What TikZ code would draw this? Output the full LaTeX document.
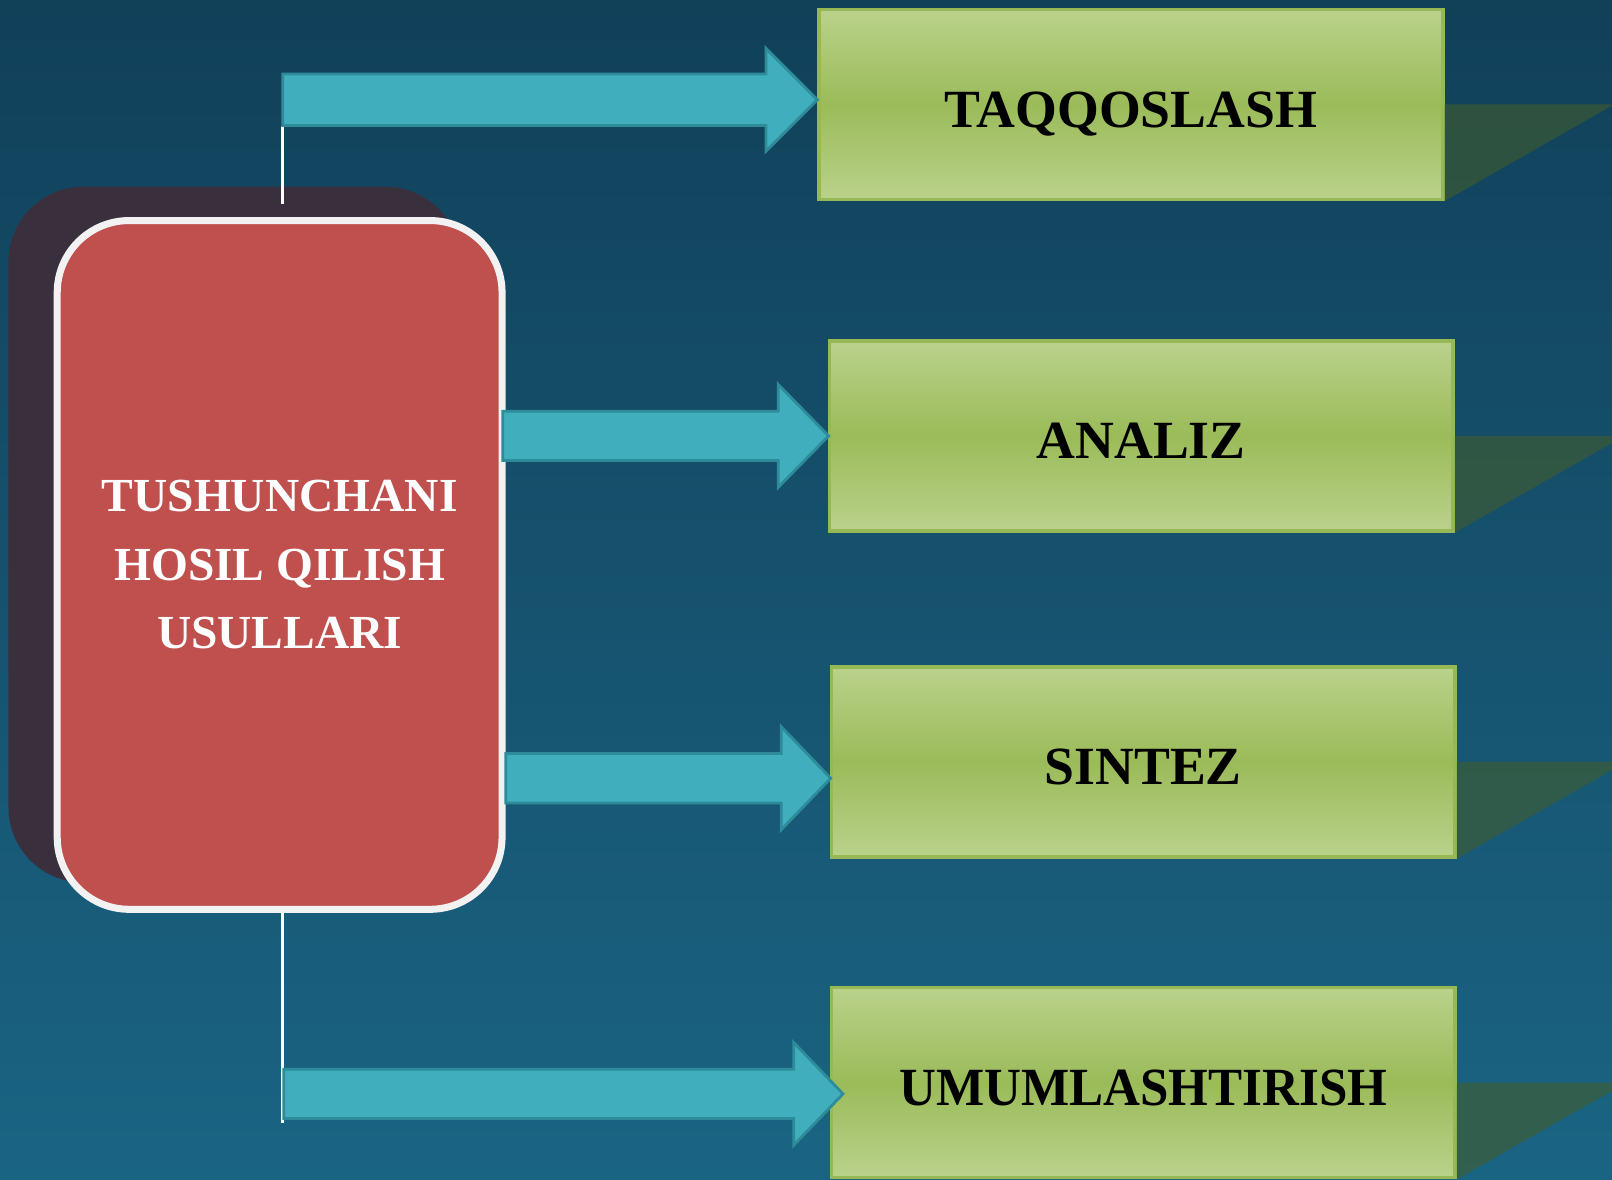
\documentclass[tikz,border=0pt]{standalone}
\usepackage{fontspec}
\setmainfont{Liberation Serif}
\usetikzlibrary{calc}
\definecolor{bgtop}{RGB}{17,64,89}
\definecolor{bgbot}{RGB}{26,100,131}
\definecolor{redfill}{RGB}{192,80,77}
\definecolor{redshadow}{RGB}{58,47,61}
\definecolor{arrowfill}{RGB}{65,174,189}
\definecolor{arrowline}{RGB}{46,140,154}
\definecolor{greenlight}{RGB}{197,218,157}
\definecolor{greenmid}{RGB}{155,187,89}
\definecolor{greenline}{RGB}{150,185,85}
\definecolor{shadegreen}{RGB}{66,92,44}
\pgfdeclareverticalshading{greenbar}{100bp}{color(0bp)=(greenlight); color(16bp)=(greenlight); color(50bp)=(greenmid); color(84bp)=(greenlight); color(100bp)=(greenlight)}
\begin{document}
\begin{tikzpicture}[x=0.01028cm,y=-0.01028cm,
  method/.style={rectangle,draw=greenline,line width=1pt,shading=greenbar,minimum width=6.24cm,minimum height=1.9cm,font=\fontsize{15.3}{18}\selectfont\bfseries,text height=0.46cm,text depth=0cm},
  main/.style={rectangle,rounded corners=0.72cm,draw=white!95!black,line width=2pt,fill=redfill,minimum width=4.45cm,minimum height=6.89cm,text=white,align=center,font=\fontsize{13.5}{19.5}\selectfont\bfseries},
  mainshadow/.style={rectangle,rounded corners=0.75cm,fill=redshadow,minimum width=4.52cm,minimum height=6.96cm},
  barrow/.style={fill=arrowfill,draw=arrowline,line width=0.8pt},
  link/.style={draw=white,line width=0.8pt},
  perspective/.style={fill=shadegreen,fill opacity=0.6}]
\useasboundingbox (0,0) rectangle (1568,1147);
\clip (0,0) rectangle (1568,1147);
\shade[top color=bgtop,bottom color=bgbot] (0,0) rectangle (1568,1147);

\node[method] (b1) at (1100,101.5) {TAQQOSLASH};
\node[method] (b2) at (1110,424) {ANALIZ};
\node[method] (b3) at (1112,741) {SINTEZ};
\node[method] (b4) at (1112,1053) {\scalebox{0.95}[1]{UMUMLASHTIRISH}};
\fill[perspective] (b1.east) -- ++(165,0) -- (b1.south east) -- cycle;
\fill[perspective] (b2.east) -- ++(165,0) -- (b2.south east) -- cycle;
\fill[perspective] (b3.east) -- ++(165,0) -- (b3.south east) -- cycle;
\fill[perspective] (b4.east) -- ++(165,0) -- (b4.south east) -- cycle;

\node[mainshadow] (ms) at (228,520) {};
\coordinate (l1) at (275,123);
\coordinate (l2) at (275,198);
\coordinate (l3) at (275,880);
\coordinate (l4) at (275,1092);
\draw[link] (l1) -- (l2);
\draw[link] (l3) -- (l4);
\node[main] (m) at (272,549.5) {TUSHUNCHANI\\HOSIL QILISH\\USULLARI};

\coordinate (s1) at (275,97);
\coordinate (t1) at (795,97);
\coordinate (s2) at (489,424);
\coordinate (t2) at (806,424);
\coordinate (s3) at (492,757);
\coordinate (t3) at (808,757);
\coordinate (s4) at (276,1064);
\coordinate (t4) at (820,1064);
\draw[barrow] ($(s1)+(0,-25)$) -- ($(t1)+(-50,-25)$) -- ($(t1)+(-50,-50)$) -- (t1) -- ($(t1)+(-50,50)$) -- ($(t1)+(-50,25)$) -- ($(s1)+(0,25)$) -- cycle;
\draw[barrow] ($(s2)+(0,-24)$) -- ($(t2)+(-49,-24)$) -- ($(t2)+(-49,-50)$) -- (t2) -- ($(t2)+(-49,50)$) -- ($(t2)+(-49,24)$) -- ($(s2)+(0,24)$) -- cycle;
\draw[barrow] ($(s3)+(0,-24)$) -- ($(t3)+(-48,-24)$) -- ($(t3)+(-48,-50)$) -- (t3) -- ($(t3)+(-48,50)$) -- ($(t3)+(-48,24)$) -- ($(s3)+(0,24)$) -- cycle;
\draw[barrow] ($(s4)+(0,-24)$) -- ($(t4)+(-48,-24)$) -- ($(t4)+(-48,-50)$) -- (t4) -- ($(t4)+(-48,50)$) -- ($(t4)+(-48,24)$) -- ($(s4)+(0,24)$) -- cycle;
\end{tikzpicture}
\end{document}
